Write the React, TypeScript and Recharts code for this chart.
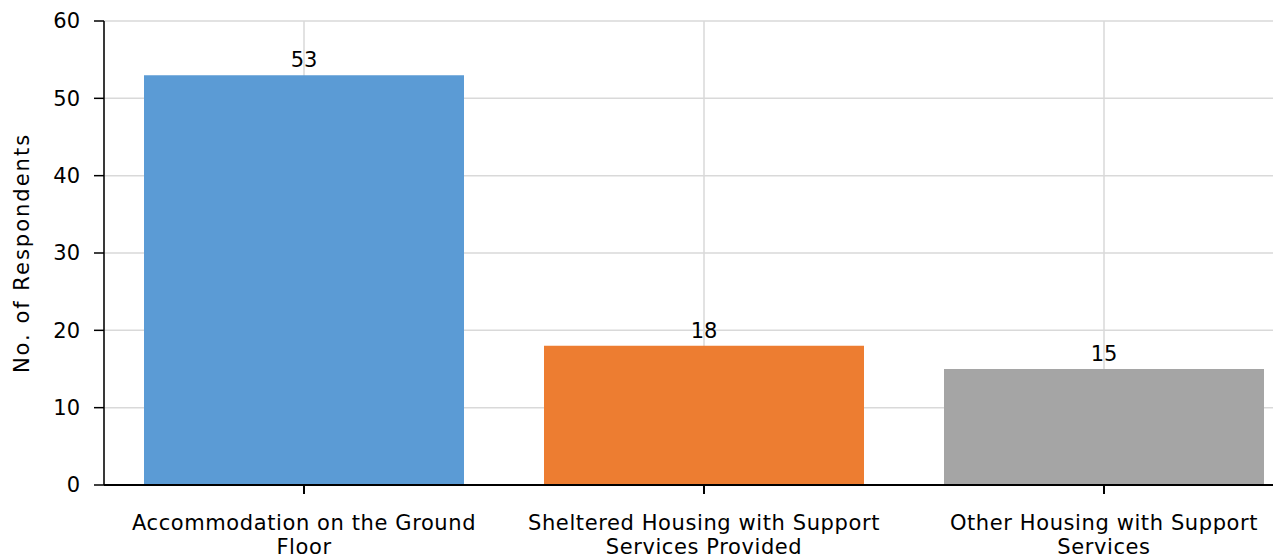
import React from 'react';
import { BarChart, Bar, XAxis, YAxis, CartesianGrid, LabelList, Cell } from 'recharts';

const categories = [
  'Accommodation on the Ground Floor',
  'Sheltered Housing with Support Services Provided',
  'Other Housing with Support Services',
];
const tickLines = [
  ['Accommodation on the Ground', 'Floor'],
  ['Sheltered Housing with Support', 'Services Provided'],
  ['Other Housing with Support', 'Services'],
];
const respondents = [53, 18, 15];
const barColors = ['#5b9bd5', '#ed7d31', '#a5a5a5'];
const yTicks = [0, 10, 20, 30, 40, 50, 60];

const data = categories.map((c, i) => ({ name: c, value: respondents[i] }));

const FONT = '"DejaVu Sans", Verdana, sans-serif';

const XTick = (props: any) => {
  const { x, y, index } = props;
  const lines = tickLines[index] || [String(props.payload.value)];
  return (
    <text x={x} y={y} textAnchor="middle" fontSize={21} letterSpacing={0.6} fontFamily={FONT} fill="#000">
      {lines.map((l, i) => (
        <tspan key={i} x={x} y={y + 34 + i * 24}>
          {l}
        </tspan>
      ))}
    </text>
  );
};

export default function App() {
  return (
    <div style={{ position: 'absolute', left: 0, top: 0, width: 1273, height: 560, overflow: 'hidden', background: '#fff' }}>
      <BarChart
        width={1310}
        height={560}
        data={data}
        margin={{ top: 21, right: 6, bottom: 0, left: 0 }}
        barCategoryGap={40}
      >
        <CartesianGrid stroke="#d9d9d9" strokeWidth={1.5} />
        <XAxis
          dataKey="name"
          height={75}
          tick={<XTick />}
          tickSize={9}
          tickLine={{ stroke: '#000', strokeWidth: 2 }}
          axisLine={{ stroke: '#000', strokeWidth: 2 }}
          interval={0}
        />
        <YAxis
          width={104}
          domain={[0, 60]}
          ticks={yTicks}
          tickSize={10}
          tickMargin={14}
          tick={{ fontSize: 21, fontFamily: FONT, fill: '#000' }}
          tickLine={{ stroke: '#000', strokeWidth: 1.5 }}
          axisLine={{ stroke: '#000', strokeWidth: 1.5 }}
          label={{
            value: 'No. of Respondents',
            angle: -90,
            position: 'insideLeft',
            offset: 22,
            style: { fontSize: 21, letterSpacing: 2, fontFamily: FONT, fill: '#000', textAnchor: 'middle' },
          }}
        />
        <Bar dataKey="value" isAnimationActive={false}>
          {data.map((d, i) => (
            <Cell key={d.name} fill={barColors[i]} />
          ))}
          <LabelList dataKey="value" position="top" offset={8} style={{ fontSize: 21, fontFamily: FONT, fill: '#000' }} />
        </Bar>
      </BarChart>
    </div>
  );
}
